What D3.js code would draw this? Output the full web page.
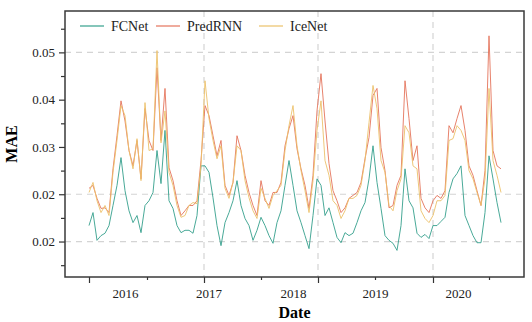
<!DOCTYPE html>
<html><head><meta charset="utf-8">
<script src="https://cdn.jsdelivr.net/npm/d3@7"></script>
<style>body{margin:0;background:#fff}</style>
</head><body><svg id="c" width="532" height="322"></svg>
<script>
// sample index (≈ every 17.7 days, 2016-01 → 2020-12)
const fcnet = [0.0187,0.0209,0.0162,0.0170,0.0174,0.0187,0.0221,0.0255,0.0302,0.0246,
0.0212,0.0192,0.0204,0.0175,0.0221,0.0229,0.0243,0.0314,0.0258,0.0348,
0.0229,0.0216,0.0187,0.0175,0.0179,0.0179,0.0174,0.0204,0.0288,0.0288,
0.0277,0.0234,0.0187,0.0153,0.0192,0.0209,0.0229,0.0263,0.0221,0.0199,
0.0187,0.0162,0.0179,0.0201,0.0187,0.0170,0.0157,0.0192,0.0212,0.0255,
0.0297,0.0255,0.0212,0.0192,0.0170,0.0148,0.0204,0.0266,0.0255,0.0204,
0.0217,0.0192,0.0167,0.0158,0.0175,0.0170,0.0174,0.0192,0.0212,0.0226,
0.0266,0.0322,0.0260,0.0216,0.0170,0.0162,0.0157,0.0145,0.0187,0.0283,
0.0229,0.0217,0.0174,0.0167,0.0172,0.0165,0.0187,0.0187,0.0194,0.0201,
0.0243,0.0266,0.0275,0.0288,0.0204,0.0187,0.0170,0.0158,0.0158,0.0209,
0.0305,0.0266,0.0226,0.0192];
const predrnn = [0.0250,0.0255,0.0233,0.0216,0.0217,0.0209,0.0283,0.0339,0.0398,0.0364,
0.0314,0.0288,0.0331,0.0266,0.0385,0.0331,0.0314,0.0454,0.0331,0.0419,
0.0285,0.0263,0.0229,0.0204,0.0212,0.0221,0.0221,0.0229,0.0297,0.0390,
0.0373,0.0339,0.0305,0.0331,0.0255,0.0238,0.0260,0.0339,0.0314,0.0272,
0.0243,0.0221,0.0204,0.0263,0.0229,0.0221,0.0243,0.0243,0.0260,0.0322,
0.0351,0.0373,0.0317,0.0283,0.0255,0.0216,0.0272,0.0381,0.0444,0.0364,
0.0292,0.0246,0.0229,0.0209,0.0217,0.0233,0.0238,0.0243,0.0260,0.0300,
0.0336,0.0407,0.0419,0.0319,0.0280,0.0217,0.0221,0.0255,0.0272,0.0432,
0.0368,0.0297,0.0322,0.0233,0.0217,0.0209,0.0229,0.0238,0.0233,0.0246,
0.0356,0.0344,0.0368,0.0390,0.0348,0.0288,0.0272,0.0246,0.0221,0.0280,
0.0508,0.0314,0.0288,0.0283];
const icenet = [0.0243,0.0260,0.0229,0.0209,0.0221,0.0204,0.0277,0.0331,0.0390,0.0373,
0.0314,0.0283,0.0334,0.0263,0.0395,0.0314,0.0317,0.0483,0.0327,0.0381,
0.0277,0.0255,0.0221,0.0201,0.0204,0.0221,0.0226,0.0224,0.0288,0.0432,
0.0368,0.0331,0.0300,0.0322,0.0250,0.0233,0.0260,0.0322,0.0314,0.0263,
0.0234,0.0212,0.0199,0.0250,0.0233,0.0216,0.0238,0.0246,0.0255,0.0314,
0.0356,0.0390,0.0322,0.0280,0.0246,0.0209,0.0263,0.0348,0.0398,0.0297,
0.0272,0.0229,0.0221,0.0199,0.0212,0.0233,0.0233,0.0238,0.0255,0.0297,
0.0361,0.0424,0.0385,0.0297,0.0277,0.0221,0.0212,0.0246,0.0266,0.0356,
0.0344,0.0288,0.0283,0.0212,0.0199,0.0192,0.0204,0.0229,0.0229,0.0238,
0.0331,0.0334,0.0356,0.0348,0.0331,0.0280,0.0266,0.0243,0.0221,0.0266,
0.0419,0.0297,0.0272,0.0243];

const seriesNames = ["FCNet", "PredRNN", "IceNet"];
const seriesColors = ["#35a08d", "#e4745c", "#ecc16a"];
const yTicks = [0.016, 0.024, 0.032, 0.040, 0.048];
const yMinorTicks = [0.012, 0.020, 0.028, 0.036, 0.044, 0.052];
const yGridValues = [0.016, 0.024, 0.048];
const xMajorTicks = [0, 28.75, 57.25, 86];
const xMinorTicks = [14.5, 43, 71.5, 100];
const xGridValues = [28.75, 57.25, 86];
const yearLabels = ["2016", "2017", "2018", "2019", "2020"];
const yearLabelPos = [9, 29.9, 51, 71.5, 92.25];

const series = [fcnet, predrnn, icenet];
const svg = d3.select("#c");
const L = 65, R = 524, T = 11, B = 277;
const x = d3.scaleLinear().domain([-6, 108.75]).range([L, R]);
const y = d3.scaleLinear().domain([0.01, 0.055]).range([B, T]);
const font = "'Liberation Serif','Times New Roman',serif";

// grid
svg.append("g").selectAll("line").data(yGridValues).join("line")
  .attr("x1", L).attr("x2", R).attr("y1", d => y(d)).attr("y2", d => y(d))
  .attr("stroke", "#d4d4d4").attr("stroke-width", 1.2).attr("stroke-dasharray", "6,5");
svg.append("g").selectAll("line").data(xGridValues).join("line")
  .attr("y1", T).attr("y2", B).attr("x1", d => x(d)).attr("x2", d => x(d))
  .attr("stroke", "#d4d4d4").attr("stroke-width", 1.2).attr("stroke-dasharray", "6,5");

// lines
const line = d3.line().x((d, i) => x(i)).y(d => y(d));
series.forEach((s, k) => {
  svg.append("path").datum(s).attr("d", line)
    .attr("fill", "none").attr("stroke", seriesColors[k])
    .attr("stroke-width", 1).attr("stroke-opacity", 0.9).attr("stroke-linejoin", "round");
});

// axes
function styleAxis(g) {
  g.select(".domain").remove();
  g.selectAll(".tick line").attr("stroke", "#333").attr("stroke-width", 1.2);
  g.selectAll("text").attr("font-family", font).attr("font-size", 13).attr("fill", "#222");
}
svg.append("g").attr("transform", `translate(${L},0)`)
  .call(d3.axisLeft(y).tickValues(yTicks).tickFormat(d3.format(".2f")).tickSize(6).tickPadding(4))
  .call(styleAxis);
svg.append("g").attr("transform", `translate(${L},0)`)
  .call(d3.axisLeft(y).tickValues(yMinorTicks).tickFormat("").tickSize(4))
  .call(styleAxis);
svg.append("g").attr("transform", `translate(0,${B})`)
  .call(d3.axisBottom(x).tickValues(xMajorTicks).tickFormat("").tickSize(6))
  .call(styleAxis);
svg.append("g").attr("transform", `translate(0,${B})`)
  .call(d3.axisBottom(x).tickValues(xMinorTicks).tickFormat("").tickSize(3))
  .call(styleAxis);
svg.append("g").attr("transform", `translate(0,${B})`)
  .call(d3.axisBottom(x).tickValues(yearLabelPos).tickFormat((d, i) => yearLabels[i]).tickSize(0).tickPadding(12))
  .call(styleAxis);

// frame
svg.append("rect").attr("x", L).attr("y", T).attr("width", R - L).attr("height", B - T)
  .attr("fill", "none").attr("stroke", "#3a3a3a").attr("stroke-width", 1.5);

// axis titles
svg.append("text").attr("x", (L + R) / 2).attr("y", 318).attr("text-anchor", "middle")
  .attr("font-family", font).attr("font-size", 16).attr("font-weight", "bold").text("Date");
svg.append("text").attr("transform", `translate(17,${(T + B) / 2}) rotate(-90)`).attr("text-anchor", "middle")
  .attr("font-family", font).attr("font-size", 16).attr("font-weight", "bold").text("MAE");

// legend
const legX = [80, 156, 259];
seriesNames.forEach((n, k) => {
  svg.append("line").attr("x1", legX[k]).attr("x2", legX[k] + 24).attr("y1", 26).attr("y2", 26)
    .attr("stroke", seriesColors[k]).attr("stroke-width", 1.2);
  svg.append("text").attr("x", legX[k] + 31).attr("y", 31)
    .attr("font-family", font).attr("font-size", 14).attr("fill", "#222").text(n);
});
</script></body></html>
